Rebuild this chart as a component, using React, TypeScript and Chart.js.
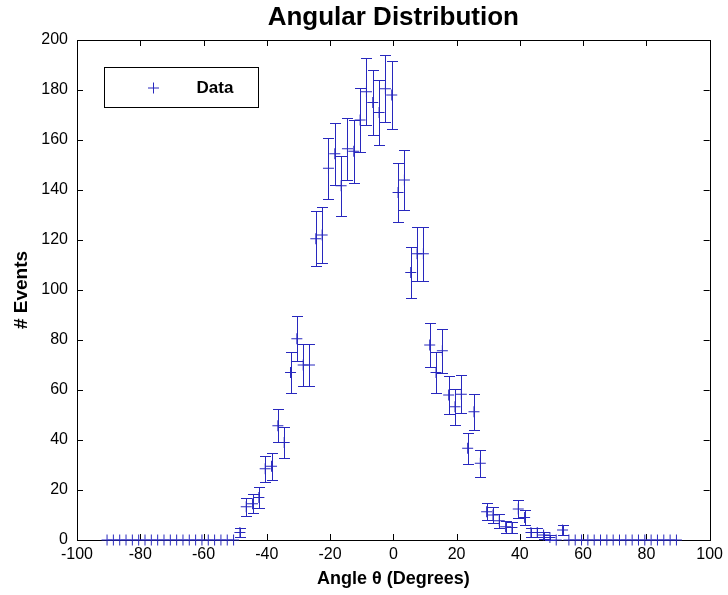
import React, { useEffect, useRef } from 'react';
import { Chart, registerables } from 'chart.js';

Chart.register(...registerables);

const angles = [
  -90.5, -88.5, -86.5, -84.5, -82.5, -80.5, -78.5, -76.5, -74.5, -72.5,
  -70.5, -68.5, -66.5, -64.5, -62.5, -60.5, -58.5, -56.5, -54.5, -52.5,
  -50.5, -48.5, -46.5, -44.5, -42.5, -40.5, -38.5, -36.5, -34.5, -32.5,
  -30.5, -28.5, -26.5, -24.5, -22.5, -20.5, -18.5, -16.5, -14.5, -12.5,
  -10.5, -8.5, -6.5, -4.5, -2.5, -0.5, 1.5, 3.5, 5.5, 7.5,
  9.5, 11.5, 13.5, 15.5, 17.5, 19.5, 21.5, 23.5, 25.5, 27.5,
  29.5, 31.5, 33.5, 35.5, 37.5, 39.5, 41.5, 43.5, 45.5, 47.5,
  49.5, 51.5, 53.5, 55.5, 57.5, 59.5, 61.5, 63.5, 65.5, 67.5,
  69.5, 71.5, 73.5, 75.5, 77.5, 79.5, 81.5, 83.5, 85.5, 87.5,
  89.5,
];

const counts = [
  0, 0, 0, 0, 0, 0, 0, 0, 0, 0,
  0, 0, 0, 0, 0, 0, 0, 0, 0, 0,
  0, 3, 13.3, 14.5, 17, 28.5, 29.5, 45.7, 39, 67,
  80.5, 70, 70, 120.5, 122, 148.7, 154.5, 141.7, 156.5, 155.5,
  168, 179.3, 175, 171, 180.5, 178, 139, 144, 107, 114.5,
  114.5, 78, 67, 75.7, 58, 53.3, 58.3, 36.7, 51.3, 30.7,
  11.3, 10, 7.7, 5.3, 5, 12.4, 9, 3, 3, 2,
  1, 0, 4, 0, 0, 0, 0, 0, 0, 0,
  0, 0, 0, 0, 0, 0, 0, 0, 0, 0,
  0,
];

const errors = [
  0, 0, 0, 0, 0, 0, 0, 0, 0, 0,
  0, 0, 0, 0, 0, 0, 0, 0, 0, 0,
  0, 1.7, 3.6, 3.8, 4.1, 5.3, 5.4, 6.7, 6.2, 8.1,
  9.0, 8.4, 8.4, 11.0, 11.0, 12.2, 12.5, 11.9, 12.5, 12.5,
  12.8, 13.4, 13.2, 13.1, 13.4, 13.4, 11.8, 12.0, 10.3, 10.7,
  10.7, 8.8, 8.2, 8.7, 7.6, 7.3, 7.6, 6.1, 7.2, 5.5,
  3.4, 3.2, 2.8, 2.3, 2.2, 3.5, 3.0, 1.7, 1.7, 1.4,
  1.0, 0, 2.0, 0, 0, 0, 0, 0, 0, 0,
  0, 0, 0, 0, 0, 0, 0, 0, 0, 0,
  0,
];

const xTickValues = [-100, -80, -60, -40, -20, 0, 20, 40, 60, 80, 100];
const yTickValues = [0, 20, 40, 60, 80, 100, 120, 140, 160, 180, 200];

const chartTitle = 'Angular Distribution';
const xTitle = 'Angle θ (Degrees)';
const yTitle = '# Events';
const seriesLabel = 'Data';

const BLUE = 'rgb(40,40,190)';
const FONT = "'Liberation Sans', Arial, Helvetica, sans-serif";
const CAP = 5.5;
const MARK = 5.5;

function drawPlus(ctx: CanvasRenderingContext2D, x: number, y: number, r: number) {
  ctx.beginPath();
  ctx.moveTo(x - r, y);
  ctx.lineTo(x + r, y);
  ctx.moveTo(x, y - r);
  ctx.lineTo(x, y + r);
  ctx.stroke();
}

const titlePlugin = {
  id: 'axesTitle',
  afterDraw(chart: any) {
    const { ctx, chartArea } = chart;
    ctx.save();
    ctx.fillStyle = '#000';
    ctx.font = `bold 26px ${FONT}`;
    ctx.textAlign = 'center';
    ctx.textBaseline = 'alphabetic';
    ctx.fillText(chartTitle, (chartArea.left + chartArea.right) / 2, 25);
    ctx.restore();
  },
};

const framePlugin = {
  id: 'frameTicks',
  beforeDatasetsDraw(chart: any) {
    const { ctx, chartArea, scales } = chart;
    const { left, right, top, bottom } = chartArea;
    ctx.save();
    ctx.strokeStyle = '#000';
    ctx.lineWidth = 1;
    ctx.strokeRect(Math.round(left) + 0.5, Math.round(top) + 0.5, Math.round(right - left), Math.round(bottom - top));
    ctx.beginPath();
    const tl = 6;
    xTickValues.forEach((v) => {
      const px = Math.round(scales.x.getPixelForValue(v)) + 0.5;
      ctx.moveTo(px, bottom);
      ctx.lineTo(px, bottom - tl);
      ctx.moveTo(px, top);
      ctx.lineTo(px, top + tl);
    });
    yTickValues.forEach((v) => {
      const py = Math.round(scales.y.getPixelForValue(v)) + 0.5;
      ctx.moveTo(left, py);
      ctx.lineTo(left + tl, py);
      ctx.moveTo(right, py);
      ctx.lineTo(right - tl, py);
    });
    ctx.stroke();
    ctx.restore();
  },
};

const errorBarPlugin = {
  id: 'errorBars',
  afterDatasetsDraw(chart: any) {
    const { ctx, scales } = chart;
    ctx.save();
    ctx.strokeStyle = BLUE;
    ctx.lineWidth = 1;
    ctx.beginPath();
    angles.forEach((a, i) => {
      const e = errors[i];
      if (!e) return;
      const px = Math.round(scales.x.getPixelForValue(a)) + 0.5;
      const yTop = Math.round(scales.y.getPixelForValue(counts[i] + e)) + 0.5;
      const yBot = Math.round(scales.y.getPixelForValue(counts[i] - e)) + 0.5;
      ctx.moveTo(px, yTop);
      ctx.lineTo(px, yBot);
      ctx.moveTo(px - CAP, yTop);
      ctx.lineTo(px + CAP, yTop);
      ctx.moveTo(px - CAP, yBot);
      ctx.lineTo(px + CAP, yBot);
    });
    ctx.stroke();
    ctx.restore();
  },
};

const legendPlugin = {
  id: 'boxLegend',
  afterDraw(chart: any) {
    const { ctx, chartArea } = chart;
    const x = Math.round(chartArea.left + 27) + 0.5;
    const y = Math.round(chartArea.top + 27) + 0.5;
    const w = 154;
    const h = 40;
    ctx.save();
    ctx.fillStyle = '#fff';
    ctx.fillRect(x, y, w, h);
    ctx.strokeStyle = '#000';
    ctx.lineWidth = 1;
    ctx.strokeRect(x, y, w, h);
    ctx.strokeStyle = BLUE;
    drawPlus(ctx, Math.round(x + 48) + 0.5, Math.round(y + h / 2), MARK);
    ctx.fillStyle = '#000';
    ctx.font = `bold 17px ${FONT}`;
    ctx.textAlign = 'left';
    ctx.textBaseline = 'middle';
    ctx.fillText(chart.data.datasets[0].label, x + 92, y + h / 2 + 1);
    ctx.restore();
  },
};

export default function App() {
  const canvasRef = useRef<HTMLCanvasElement | null>(null);

  useEffect(() => {
    const canvas = canvasRef.current;
    if (!canvas) return;
    const chart = new Chart(canvas, {
      type: 'scatter',
      data: {
        datasets: [
          {
            label: seriesLabel,
            data: angles.map((a, i) => ({ x: a, y: counts[i] })),
            pointStyle: 'cross',
            pointRadius: MARK,
            pointHoverRadius: MARK,
            pointBorderWidth: 1,
            borderColor: BLUE,
            backgroundColor: BLUE,
            showLine: false,
            clip: false as any,
          } as any,
        ],
      },
      options: {
        animation: false,
        responsive: false,
        devicePixelRatio: 1,
        events: [],
        layout: { padding: { left: 0, right: 16, top: 40, bottom: 0 } },
        plugins: {
          legend: { display: false },
          tooltip: { enabled: false },
          title: { display: false },
        },
        scales: {
          x: {
            type: 'linear',
            min: -100,
            max: 100,
            afterBuildTicks: (scale: any) => {
              scale.ticks = xTickValues.map((v) => ({ value: v }));
            },
            afterFit: (scale: any) => {
              scale.height = 55;
            },
            grid: { display: false, drawTicks: false },
            border: { display: false },
            ticks: {
              color: '#000',
              font: { family: FONT, size: 16 },
              padding: 5,
              maxRotation: 0,
              autoSkip: false,
            },
            title: {
              display: true,
              text: xTitle,
              color: '#000',
              font: { family: FONT, size: 18, weight: 'bold' },
              padding: { top: 0, bottom: 5 },
            },
          },
          y: {
            type: 'linear',
            min: 0,
            max: 200,
            afterBuildTicks: (scale: any) => {
              scale.ticks = yTickValues.map((v) => ({ value: v }));
            },
            afterFit: (scale: any) => {
              scale.width = 77;
            },
            grid: { display: false, drawTicks: false },
            border: { display: false },
            ticks: {
              color: '#000',
              font: { family: FONT, size: 16 },
              padding: 9,
              autoSkip: false,
            },
            title: {
              display: true,
              text: yTitle,
              color: '#000',
              font: { family: FONT, size: 19, weight: 'bold' },
              padding: { top: 10, bottom: 0 },
            },
          },
        },
      } as any,
      plugins: [framePlugin, errorBarPlugin, legendPlugin, titlePlugin],
    });
    return () => chart.destroy();
  }, []);

  return (
    <div style={{ position: 'absolute', left: 0, top: 0, width: 728, height: 595, background: '#fff' }}>
      <canvas ref={canvasRef} width={728} height={595} style={{ display: 'block', width: 728, height: 595 }} />
    </div>
  );
}
